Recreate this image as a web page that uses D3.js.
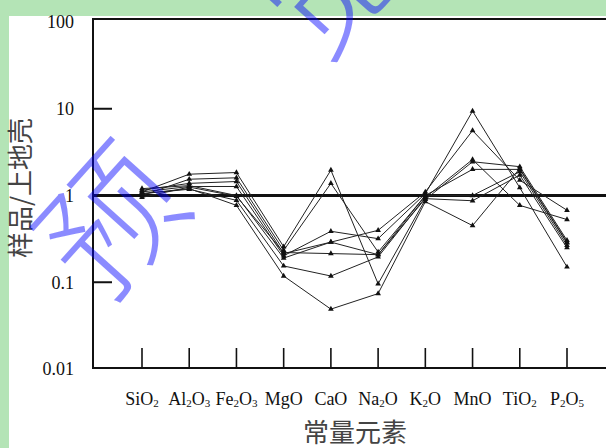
<!DOCTYPE html>
<html>
<head>
<meta charset="utf-8">
<script src="https://cdn.jsdelivr.net/npm/d3@7"></script>
<style>
  html, body { margin: 0; padding: 0; background: #b4e4b6; }
  svg { display: block; }
</style>
</head>
<body>
<div id="chart"></div>
<script>
// oxides along the x axis
var oxides = ["SiO2", "Al2O3", "Fe2O3", "MgO", "CaO", "Na2O", "K2O", "MnO", "TiO2", "P2O5"];

// sample / upper crust ratios, one array per sample
var sample1 = [1.10, 1.27, 1.27, 0.202, 0.387, 0.318, 1.05, 9.4, 1.23, 0.15];
var sample2 = [1.15, 1.38, 1.45, 0.214, 0.29, 0.397, 1.10, 5.6, 1.50, 0.676];
var sample3 = [1.05, 1.18, 0.88, 0.154, 0.118, 0.196, 0.95, 2.6, 0.77, 0.528];
var sample4 = [1.10, 1.76, 1.84, 0.257, 1.96, 0.096, 0.90, 2.45, 2.15, 0.304];
var sample5 = [1.00, 1.54, 1.60, 0.233, 1.38, 0.223, 1.00, 2.0, 2.0, 0.284];
var sample6 = [1.20, 1.30, 1.00, 0.19, 0.29, 0.208, 1.00, 1.0, 1.88, 0.267];
var sample7 = [0.95, 1.25, 0.98, 0.22, 0.214, 0.208, 0.92, 0.87, 1.72, 0.25];
var sample8 = [1.05, 1.20, 0.77, 0.118, 0.049, 0.074, 0.85, 0.45, 2.05, 0.29];
var samples = [sample1, sample2, sample3, sample4, sample5, sample6, sample7, sample8];

var yTicks = [100, 10, 1, 0.1, 0.01];
var yTickLabels = ["100", "10", "1", "0.1", "0.01"];
var innerTicks = [10, 0.1];

var svgWidth = 606;
var svgHeight = 448;

var svg = d3.select("#chart")
    .append("svg")
    .attr("width", svgWidth)
    .attr("height", svgHeight);

// white page
svg.append("rect")
    .attr("x", 9)
    .attr("y", 16)
    .attr("width", svgWidth - 9)
    .attr("height", svgHeight - 16)
    .attr("fill", "#ffffff");

var plotLeft = 93;
var plotTop = 19;
var plotBottom = 368;

//SCALES
var xScale = d3.scalePoint()
    .domain(oxides)
    .range([142, 567]);

var yScale = d3.scaleLog()
    .domain([0.01, 100])
    .range([369, 22]);

var serif = "'Liberation Serif', 'Times New Roman', serif";
var cjk = "'Noto Sans CJK SC', sans-serif";

//FRAME
svg.append("path")
    .attr("d", `M${svgWidth},${plotTop} H${plotLeft} V${plotBottom} H${svgWidth}`)
    .attr("fill", "none")
    .attr("stroke", "#111")
    .attr("stroke-width", 2);

// short inner ticks on y axis
svg.selectAll(".ytick")
    .data(innerTicks)
    .enter()
    .append("line")
    .attr("x1", plotLeft)
    .attr("x2", plotLeft + 19)
    .attr("y1", d => yScale(d))
    .attr("y2", d => yScale(d))
    .attr("stroke", "#111")
    .attr("stroke-width", 2);

// reference line at 1
svg.append("line")
    .attr("x1", plotLeft)
    .attr("x2", svgWidth)
    .attr("y1", yScale(1))
    .attr("y2", yScale(1))
    .attr("stroke", "#111")
    .attr("stroke-width", 3);

// x ticks, pointing up from the bottom
svg.selectAll(".xtick")
    .data(oxides)
    .enter()
    .append("line")
    .attr("x1", d => xScale(d))
    .attr("x2", d => xScale(d))
    .attr("y1", plotBottom)
    .attr("y2", plotBottom - 20)
    .attr("stroke", "#111")
    .attr("stroke-width", 1.6);

// y tick labels
svg.selectAll(".ylabel")
    .data(yTicks)
    .enter()
    .append("text")
    .attr("x", 74)
    .attr("y", d => yScale(d))
    .attr("dy", "0.35em")
    .attr("text-anchor", "end")
    .attr("font-family", serif)
    .attr("font-size", 18)
    .attr("fill", "#111")
    .text((d, i) => yTickLabels[i]);

// x labels with subscripted digits
var xLabels = svg.selectAll(".xlabel")
    .data(oxides)
    .enter()
    .append("text")
    .attr("x", d => xScale(d))
    .attr("y", 407)
    .attr("text-anchor", "middle")
    .attr("font-family", serif)
    .attr("font-size", 18)
    .attr("fill", "#111");

xLabels.each(function(d) {
    var t = d3.select(this);
    var parts = d.match(/[A-Za-z]+|\d+/g);
    parts.forEach(function(p) {
        if (/\d/.test(p)) {
            t.append("tspan").attr("font-size", 11).attr("dy", 2).text(p);
        } else {
            t.append("tspan").attr("dy", t.selectAll("tspan").size() ? -2 : 0).text(p);
        }
    });
});

//LINES
var line = d3.line()
    .x((d, i) => xScale(oxides[i]))
    .y(d => yScale(d));

svg.selectAll(".sample")
    .data(samples)
    .enter()
    .append("path")
    .attr("d", line)
    .attr("fill", "none")
    .attr("stroke", "#222")
    .attr("stroke-width", 1);

var tri = d3.symbol().type(d3.symbolTriangle).size(14);
samples.forEach(function(s) {
    svg.selectAll(null)
        .data(s)
        .enter()
        .append("path")
        .attr("d", tri)
        .attr("transform", (d, i) => `translate(${xScale(oxides[i])},${yScale(d)})`)
        .attr("fill", "#111");
});

//AXIS TITLES
svg.append("text")
    .attr("transform", "translate(30,188) rotate(-90)")
    .attr("text-anchor", "middle")
    .attr("font-family", cjk)
    .attr("font-size", 26)
    .attr("fill", "#444")
    .text("样品/上地壳");

svg.append("text")
    .attr("x", 355)
    .attr("y", 442)
    .attr("text-anchor", "middle")
    .attr("font-family", cjk)
    .attr("font-size", 26)
    .attr("fill", "#444")
    .text("常量元素");

//WATERMARK
// thin glyphs: the text is used as a mask, eroded by a black stroke
var mask = svg.append("defs")
    .append("mask")
    .attr("id", "wm")
    .attr("maskUnits", "userSpaceOnUse")
    .attr("x", 0).attr("y", 0)
    .attr("width", svgWidth).attr("height", svgHeight);

var markText = mask.append("g")
    .attr("transform", "translate(105,215) rotate(-48)")
    .attr("font-family", cjk)
    .attr("font-size", 140)
    .attr("fill", "white")
    .attr("stroke", "black")
    .attr("stroke-width", 3.5);

var wmChars = ["预", "览"];
var wmOffsets = [0, 322];
markText.selectAll("text")
    .data(wmChars)
    .enter()
    .append("text")
    .attr("x", (d, i) => wmOffsets[i])
    .attr("y", 0)
    .attr("text-anchor", "middle")
    .attr("dominant-baseline", "central")
    .text(d => d);

svg.append("rect")
    .attr("width", svgWidth)
    .attr("height", svgHeight)
    .attr("fill", "rgb(0,0,255)")
    .attr("opacity", 0.45)
    .attr("mask", "url(#wm)");
</script>
</body>
</html>
